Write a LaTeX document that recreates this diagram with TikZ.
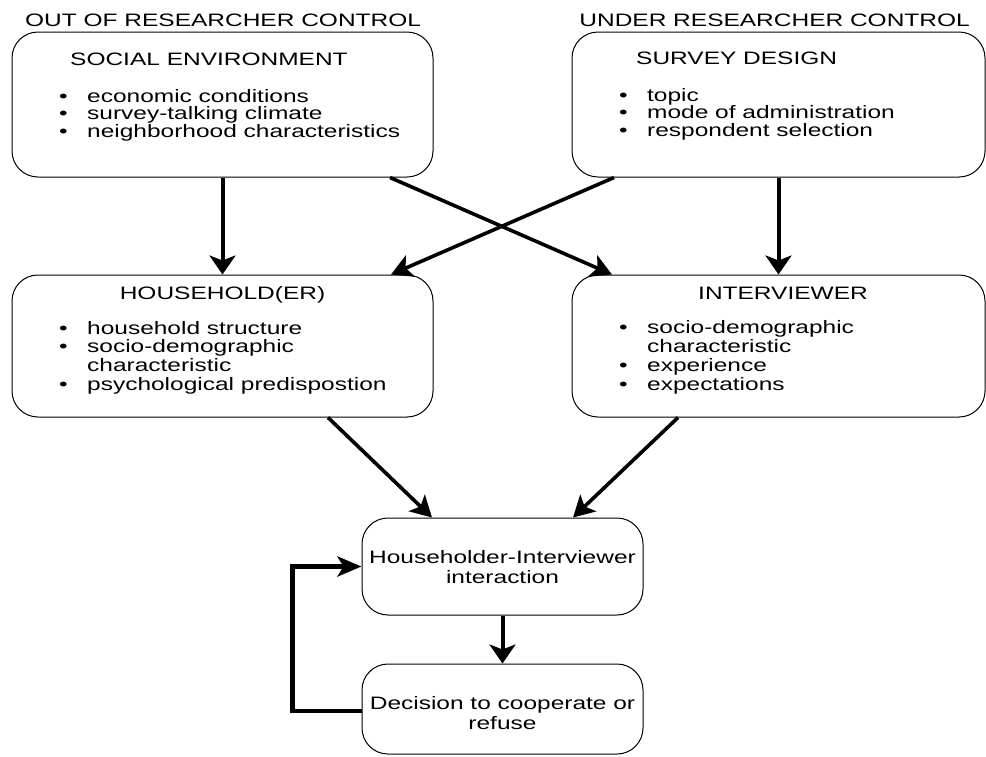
\documentclass[tikz,border=0pt]{standalone}
\usepackage{fontspec}
\setmainfont{Liberation Sans}[FakeStretch=1.36]
\usetikzlibrary{arrows.meta}

% stacked lines with a fixed baseline distance; the node baseline is the first line
\newcommand\leftlines[2]{\vtop{\baselineskip=#1\lineskiplimit=-100pt\halign{##\hfil\cr#2\crcr}}}
\newcommand\centerlines[2]{\vtop{\baselineskip=#1\lineskiplimit=-100pt\halign{\hfil##\hfil\cr#2\crcr}}}
\newcommand\bitem[1]{\makebox[28pt][l]{•}#1}
\newcommand\bcont[1]{\hspace*{28pt}#1}

\begin{document}
\begin{tikzpicture}[x=1pt,y=-1pt,
  box/.style={draw=black,line width=1pt,rounded corners=26pt,inner sep=0pt},
  txt/.style={inner sep=0pt,font=\fontsize{18}{18}\selectfont},
  vflow/.style={line width=4pt,-{Stealth[length=19pt,width=26pt,inset=5pt]}},
  dflow/.style={line width=3.6pt,-{Stealth[length=21pt,width=23pt,inset=5pt]}},
  loopflow/.style={line width=4.5pt,-{Stealth[length=24pt,width=20pt,inset=6pt]}},
]
\useasboundingbox (0,0) rectangle (986,756);

% boxes
\node[box,minimum width=421pt,minimum height=145pt] (soc) at (222.5,104.5) {};
\node[box,minimum width=413pt,minimum height=145pt] (sd)  at (778.5,104.5) {};
\node[box,minimum width=421pt,minimum height=142pt] (hh)  at (222.5,346) {};
\node[box,minimum width=413pt,minimum height=142pt] (iv)  at (778.5,346) {};
\node[box,minimum width=281pt,minimum height=97pt]  (hi)  at (502.5,566.5) {};
\node[box,minimum width=281pt,minimum height=90pt]  (dec) at (502.5,709) {};

% headings
\node[txt,anchor=base west] (outc) at (25,26) {OUT OF RESEARCHER CONTROL};
\node[txt,anchor=base east] (underc) at (970,26) {UNDER RESEARCHER CONTROL};

% box contents
\node[txt,anchor=base west] (socT) at (70,65) {SOCIAL ENVIRONMENT};
\node[txt,anchor=base west] (socL) at (59,102) {\leftlines{17.5pt}{%
  \bitem{economic conditions}\cr
  \bitem{survey-talking climate}\cr
  \bitem{neighborhood characteristics}}};

\node[txt,anchor=base west] (sdT) at (636,64) {SURVEY DESIGN};
\node[txt,anchor=base west] (sdL) at (619,101) {\leftlines{17.8pt}{%
  \bitem{topic}\cr
  \bitem{mode of administration}\cr
  \bitem{respondent selection}}};

\node[txt,anchor=base] (hhT) at (222.5,299) {HOUSEHOLD(ER)};
\node[txt,anchor=base west] (hhL) at (59,334) {\leftlines{18.7pt}{%
  \bitem{household structure}\cr
  \bitem{socio-demographic}\cr
  \bcont{characteristic}\cr
  \bitem{psychological predispostion}}};

\node[txt,anchor=base] (ivT) at (783,299) {INTERVIEWER};
\node[txt,anchor=base west] (ivL) at (619,333) {\leftlines{19pt}{%
  \bitem{socio-demographic}\cr
  \bcont{characteristic}\cr
  \bitem{experience}\cr
  \bitem{expectations}}};

\node[txt,anchor=base] (hiT) at (502.5,563) {\centerlines{20pt}{%
  Householder-Interviewer\cr interaction}};
\node[txt,anchor=base] (decT) at (502.5,709) {\centerlines{20pt}{%
  Decision to cooperate or\cr refuse}};

% connectors
\draw[vflow] (soc.south) -- (hh.north);
\draw[vflow] (sd.south) -- (iv.north);
\draw[dflow] ([xshift=167.5pt]soc.south) -- ([xshift=-166.5pt]iv.north);
\draw[dflow] ([xshift=-164.5pt]sd.south) -- ([xshift=168.5pt]hh.north);
\draw[dflow] ([xshift=105.5pt]hh.south) -- ([xshift=-70.5pt]hi.north);
\draw[dflow] ([xshift=-100.5pt]iv.south) -- ([xshift=70.5pt]hi.north);
\draw[vflow] (hi.south) -- (dec.north);
\draw[loopflow] ([yshift=-2pt]dec.west) -- ++(-69,0) |- (hi.west);
\end{tikzpicture}
\end{document}
